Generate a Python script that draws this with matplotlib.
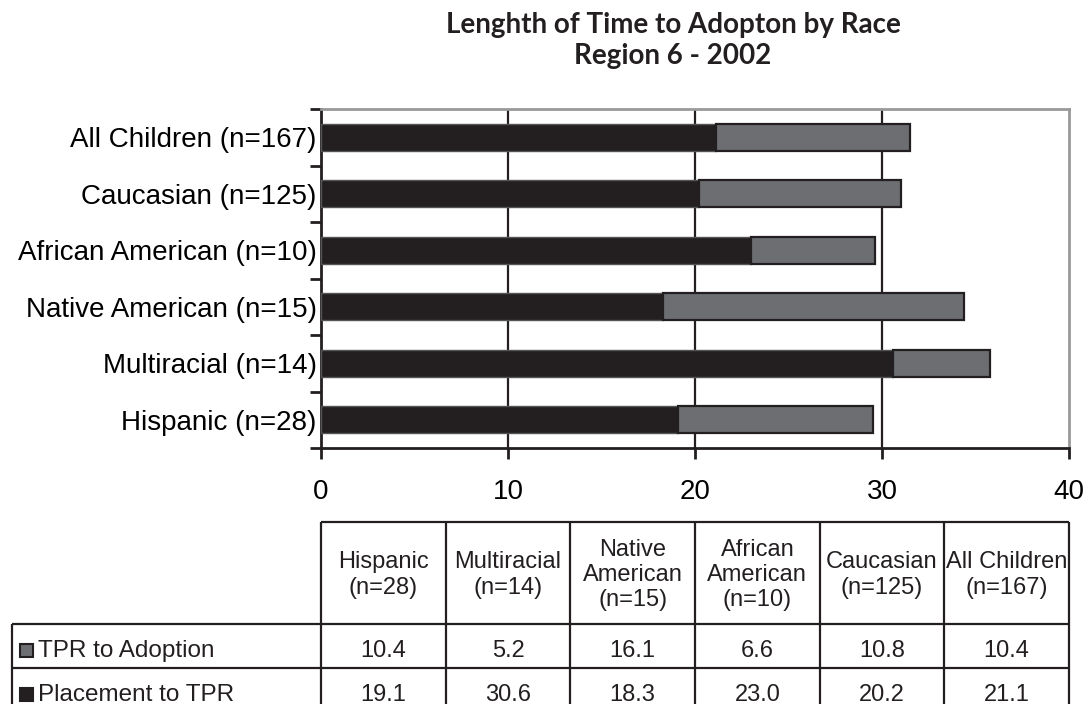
import matplotlib
matplotlib.use("Agg")
import matplotlib.pyplot as plt
from matplotlib.patches import Rectangle
import numpy as np

# ---- data ----
categories = ["Hispanic (n=28)", "Multiracial (n=14)", "Native American (n=15)",
              "African American (n=10)", "Caucasian (n=125)", "All Children (n=167)"]
table_headers = ["Hispanic\n(n=28)", "Multiracial\n(n=14)", "Native\nAmerican\n(n=15)",
                 "African\nAmerican\n(n=10)", "Caucasian\n(n=125)", "All Children\n(n=167)"]
placement_to_tpr = [19.1, 30.6, 18.3, 23.0, 20.2, 21.1]
tpr_to_adoption = [10.4, 5.2, 16.1, 6.6, 10.8, 10.4]
series_names = ["TPR to Adoption", "Placement to TPR"]
x_ticks = [0, 10, 20, 30, 40]

BLACK = "#231f20"
GRAY = "#6d6e71"
FONT = "Liberation Sans"

W, H = 1086, 704
fig = plt.figure(figsize=(W / 100, H / 100), dpi=100)

# plot area in pixel coords
pl, pr, pt, pb = 321, 1069, 109, 448
ax = fig.add_axes([pl / W, 1 - pb / H, (pr - pl) / W, (pb - pt) / H])

y = np.arange(len(categories))
ax.barh(y, placement_to_tpr, height=0.48, color=BLACK, edgecolor="#555555",
        linewidth=1.0, zorder=3)
ax.barh(y, tpr_to_adoption, left=placement_to_tpr, height=0.48, color=GRAY,
        edgecolor=BLACK, linewidth=1.6, zorder=3)

ax.set_xlim(0, 40)
ax.set_ylim(-0.5, len(categories) - 0.5)
ax.set_xticks(x_ticks)
ax.set_xticklabels([str(t) for t in x_ticks], fontsize=20, family=FONT)
ax.tick_params(axis="x", direction="out", length=8, width=2, color=BLACK, pad=14)
for xv in x_ticks[1:-1]:
    ax.axvline(xv, color=BLACK, lw=1.6, zorder=1)

ax.set_yticks(np.arange(len(categories) + 1) - 0.5)
ax.set_yticklabels([])
ax.tick_params(axis="y", which="major", direction="out", length=8, width=2, color=BLACK)
ax.set_yticks(y, minor=True)
ax.set_yticklabels(categories, minor=True, fontsize=20, family=FONT)
ax.tick_params(axis="y", which="minor", length=0, pad=3)

for s in ["left", "bottom"]:
    ax.spines[s].set_color(BLACK)
    ax.spines[s].set_linewidth(2)
for s in ["top", "right"]:
    ax.spines[s].set_color("#999999")
    ax.spines[s].set_linewidth(2)

# title
fig.text(673 / W, 1 - 25 / H, "Lenghth of Time to Adopton by Race", ha="center",
         va="center", fontsize=20, fontweight="bold", family="Lato", color=BLACK)
fig.text(673 / W, 1 - 56 / H, "Region 6 - 2002", ha="center", va="center",
         fontsize=20, fontweight="bold", family="Lato", color=BLACK)

# ---- data table ----
tax = fig.add_axes([0, 0, 1, 1])
tax.set_xlim(0, W)
tax.set_ylim(H, 0)
tax.axis("off")

ncol = len(table_headers)
cw = (pr - pl) / ncol
col_edges = [pl + i * cw for i in range(ncol + 1)]
lab_left = 12
r_top, r_hdr, r_1, r_2 = 522, 624, 668, 712
lw = 1.6
TFS = 17

tax.hlines(r_top, pl, pr, color=BLACK, lw=lw)
tax.hlines([r_hdr, r_1], lab_left, pr, color=BLACK, lw=lw)
tax.vlines(col_edges, r_top, r_2, color=BLACK, lw=lw)
tax.vlines(lab_left, r_hdr, r_2, color=BLACK, lw=lw)

for i, h in enumerate(table_headers):
    tax.text((col_edges[i] + col_edges[i + 1]) / 2, (r_top + r_hdr) / 2 + 2, h,
             ha="center", va="center", fontsize=TFS, family=FONT,
             linespacing=1.2, color=BLACK)

rows = [tpr_to_adoption, placement_to_tpr]
row_tops = [r_hdr, r_1]
row_colors = [GRAY, BLACK]
for rname, vals, rt, c in zip(series_names, rows, row_tops, row_colors):
    yc = rt + 27
    tax.add_patch(Rectangle((20, yc - 7), 13, 13, facecolor=c, edgecolor=BLACK,
                            lw=1.5))
    tax.text(38, yc, rname, ha="left", va="center", fontsize=TFS + 0.5, family=FONT,
             color=BLACK)
    for i, v in enumerate(vals):
        tax.text((col_edges[i] + col_edges[i + 1]) / 2, yc, f"{v:.1f}",
                 ha="center", va="center", fontsize=TFS, family=FONT, color=BLACK)

fig.savefig("out.png", dpi=100)
